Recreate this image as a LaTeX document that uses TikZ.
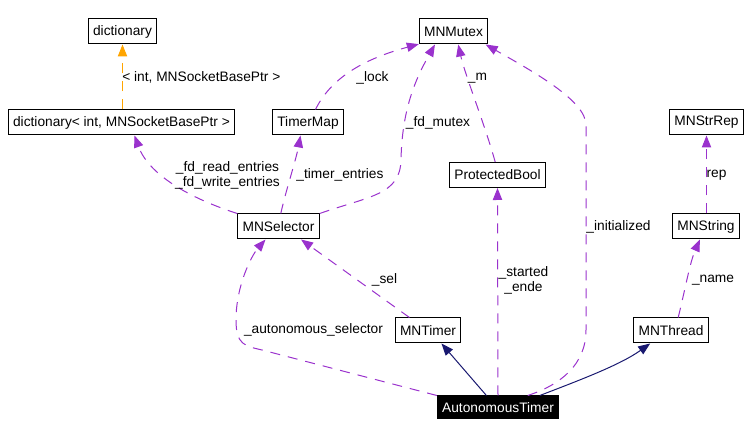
\documentclass[tikz,border=0pt]{standalone}
\usepackage{fontspec}
\setmainfont{Liberation Sans}
\usetikzlibrary{arrows.meta}
\definecolor{usepurple}{RGB}{154,50,205}
\definecolor{inhnavy}{RGB}{25,25,112}
\definecolor{tplorange}{RGB}{255,165,0}

\begin{document}
\begin{tikzpicture}[
    x=0.75pt, y=-0.75pt,
    cls/.style={
        draw=black,
        line width=0.75pt,
        fill=white,
        minimum height=18.75pt,
        inner xsep=3.6pt,
        inner ysep=0pt,
        font=\fontsize{10.3}{12}\selectfont
    },
    self/.style={
        cls,
        fill=black,
        text=white,
        minimum height=17.25pt
    },
    lbl/.style={
        inner sep=0pt,
        align=center,
        font=\fontsize{10.3}{11.2}\selectfont
    },
    usage/.style={
        -{Triangle[length=9pt,width=7pt]},
        draw=usepurple,
        line width=0.75pt,
        dash pattern=on 7.5pt off 6pt
    },
    tpl/.style={
        usage,
        draw=tplorange
    },
    inh/.style={
        -{Triangle[length=9pt,width=7pt]},
        draw=inhnavy,
        line width=0.75pt
    }
]
\useasboundingbox (0,0) rectangle (747,438);

% classes
\node[cls] (dict) at (122.5,31.5) {dictionary};
\node[cls] (dictT) at (121.5,122.5) {dictionary< int, MNSocketBasePtr >};
\node[cls] (tmap) at (308,122.5) {TimerMap};
\node[cls] (mutex) at (453.5,31.5) {MNMutex};
\node[cls] (pbool) at (497.5,175) {ProtectedBool};
\node[cls] (strrep) at (706.5,122.5) {MNStrRep};
\node[cls] (sel) at (278.5,226.5) {MNSelector};
\node[cls] (mstring) at (706,226.5) {MNString};
\node[cls] (mtimer) at (428,330.5) {MNTimer};
\node[cls] (mthread) at (671,330.5) {MNThread};
\node[self] (at) at (498,407.5) {AutonomousTimer};

% template instance
\draw[tpl] (dictT.north -| dict.south) -- (dict.south)
    node[lbl] at (201.3,77.5) {< int, MNSocketBasePtr >};

% usage relations
\draw[usage] (sel.north west) .. controls (198,201) and (150,178) .. (dictT.-45)
    node[lbl] at (227.5,175) {\_fd\_read\_entries\\\_fd\_write\_entries};
\draw[usage] (sel.80) .. controls (286,190) and (296,160) .. (tmap.-120)
    node[lbl] at (340,175) {\_timer\_entries};
\draw[usage] (tmap.60) .. controls (330,80) and (360,60) .. (mutex.-160)
    node[lbl] at (372.5,78) {\_lock};
\draw[usage] (sel.north east) .. controls (370,196) and (400,195) .. (401,160)
    .. controls (402,110) and (415,80) .. (mutex.-145)
    node[lbl] at (438,123) {\_fd\_mutex};
\draw[usage] (pbool.100) .. controls (485,125) and (465,75) .. (mutex.-70)
    node[lbl] at (477.5,78) {\_m};
\draw[usage] (at.22) .. controls (560,385) and (586,365) .. (586,330)
    -- (586,125) .. controls (586,100) and (530,70) .. (mutex.-22)
    node[lbl] at (618.5,227) {\_initialized};
\draw[usage] (at.north) -- (pbool.south)
    node[lbl] at (523.5,280) {\_started\\\_ende};
\draw[usage] (at.north west) -- (262,350) .. controls (245,346) and (236,345) .. (236,320)
    .. controls (236,285) and (252,255) .. (sel.-135)
    node[lbl] at (313.5,330) {\_autonomous\_selector};
\draw[usage] (mtimer.145) -- (sel.-30)
    node[lbl] at (384.5,280) {\_sel};
\draw[usage] (mthread.61) .. controls (685,290) and (690,262) .. (mstring.-115)
    node[lbl] at (713,280) {\_name};
\draw[usage] (mstring.north -| strrep.south) -- (strrep.south)
    node[lbl] at (716.5,175) {rep};

% inheritance
\draw[inh] (at.134) -- (mtimer.-44);
\draw[inh] (at.16) .. controls (580,380) and (620,365) .. (mthread.-148);

\end{tikzpicture}
\end{document}
